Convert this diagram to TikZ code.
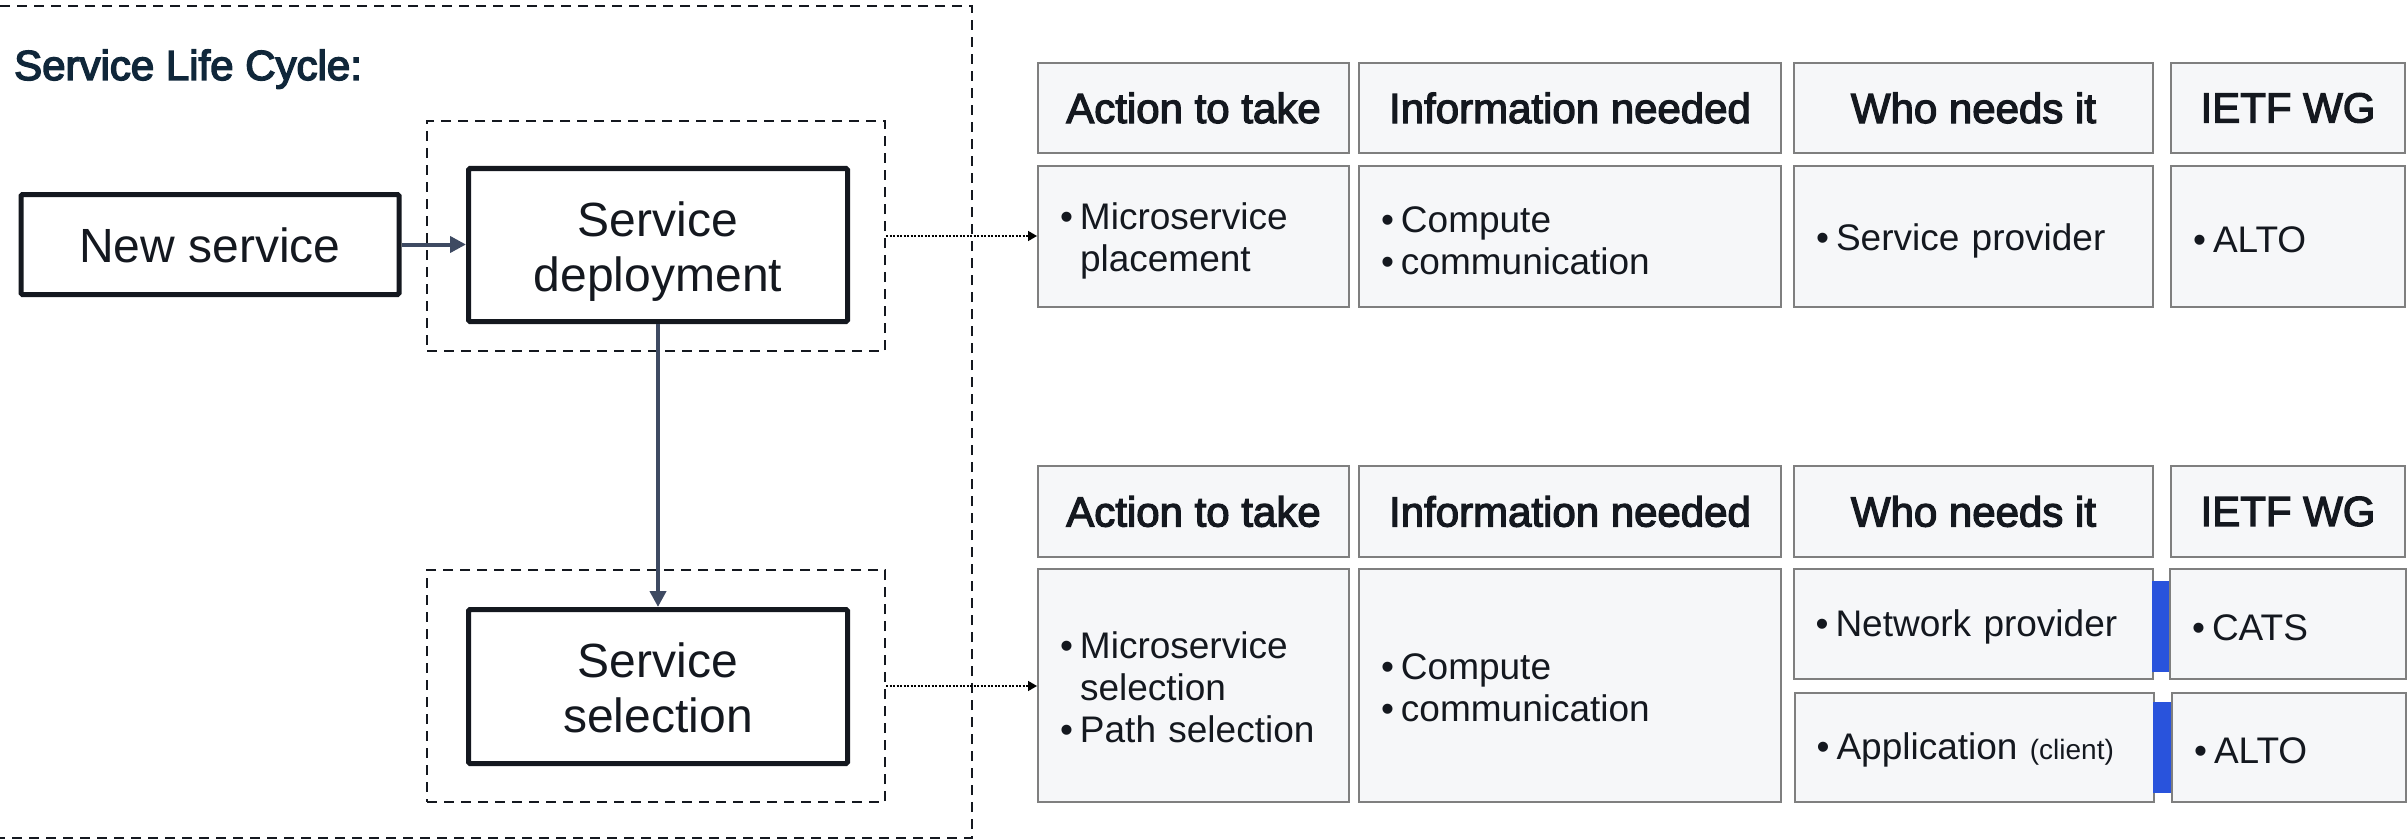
\documentclass[tikz,border=0pt]{standalone}
\usepackage{fontspec}
\setmainfont{Liberation Sans}
\newfontfamily\hfont[FakeBold=3]{Liberation Sans}
\newfontfamily\tfont[FakeBold=3.5]{Liberation Sans}
\usetikzlibrary{arrows.meta}
\definecolor{ink}{HTML}{14181F}
\definecolor{navy}{HTML}{10273A}
\definecolor{slate}{HTML}{3E4A62}
\definecolor{cellfill}{HTML}{F6F7F9}
\definecolor{cellline}{HTML}{7F7F7F}
\definecolor{barblue}{HTML}{2953DC}
\newcommand\bitem{\makebox[20pt][l]{•}}
\newcommand\bcont{\hspace*{20pt}}
\newcommand\lift[1]{\rule{0pt}{#1}}
\begin{document}
\begin{tikzpicture}[x=1pt,y=-1pt,
  stage/.style={draw=ink, line width=5pt, rounded corners=1.5pt, font=\fontsize{48}{55}\selectfont, text=ink, align=center, inner sep=0pt},
  group/.style={draw=ink, line width=2pt, dash pattern=on 10pt off 7pt, inner sep=0pt},
  flow/.style={draw=slate, line width=4pt, -{Triangle[length=16pt,width=16pt]}},
  link/.style={draw=black, line width=1.5pt, dash pattern=on 2pt off 1.5pt, -{Triangle[length=9pt,width=10pt]}},
  cell/.style={draw=cellline, fill=cellfill, line width=2pt, inner sep=0pt},
  head/.style={cell, font=\hfont\fontsize{42}{50}\selectfont, text=ink},
  body/.style={cell, font=\fontsize{37}{42}\selectfont, text=ink, align=left, inner xsep=22pt},
  bar/.style={fill=barblue, draw=none, inner sep=0pt}
]
\useasboundingbox (0,0) rectangle (2407,840);

% left part
\node[group, minimum width=977, minimum height=832] (outer) at (483.5,422) {};
\node[anchor=base west, inner sep=0pt, text=navy, font=\tfont\fontsize{42}{50}\selectfont] (title) at (14,80) {Service Life Cycle:};
\node[group, minimum width=458, minimum height=230] (depgrp) at (656,236) {};
\node[group, minimum width=458, minimum height=232] (selgrp) at (656,686) {};
\node[stage, minimum width=378, minimum height=100] (new) at (210,244.5) {\lift{37pt}New service};
\node[stage, minimum width=379, minimum height=153] (dep) at (658,245) {\lift{48pt}Service\\deployment};
\node[stage, minimum width=379, minimum height=154] (sel) at (658,686.5) {\lift{37pt}Service\\selection};
\draw[flow] (new.east) -- (new.east -| dep.west);
\draw[flow] (dep.south) -- (sel.north);

% upper table
\node[head, minimum width=311, minimum height=90] (ha1) at (1193.5,108) {Action to take};
\node[head, minimum width=422, minimum height=90] (ha2) at (1570,108) {Information needed};
\node[head, minimum width=359, minimum height=90] (ha3) at (1973.5,108) {Who needs it};
\node[head, minimum width=234, minimum height=90] (ha4) at (2288,108) {IETF WG};
\node[body, minimum width=311, minimum height=141, text width=267] (ba1) at (1193.5,236.5) {\lift{35pt}\bitem Microservice\\\bcont placement};
\node[body, minimum width=422, minimum height=141, text width=378] (ba2) at (1570,236.5) {\lift{35pt}\bitem Compute\\\bitem communication};
\node[body, minimum width=359, minimum height=141, text width=315] (ba3) at (1973.5,236.5) {\lift{35pt}\bitem Service provider};
\node[body, minimum width=234, minimum height=141, text width=190] (ba4) at (2288,236.5) {\lift{33pt}\bitem ALTO};

% lower table
\node[head, minimum width=311, minimum height=91] (hb1) at (1193.5,511.5) {Action to take};
\node[head, minimum width=422, minimum height=91] (hb2) at (1570,511.5) {Information needed};
\node[head, minimum width=359, minimum height=91] (hb3) at (1973.5,511.5) {Who needs it};
\node[head, minimum width=234, minimum height=91] (hb4) at (2288,511.5) {IETF WG};
\node[body, minimum width=311, minimum height=233, text width=267] (bb1) at (1193.5,685.5) {\lift{31pt}\bitem Microservice\\\bcont selection\\\bitem Path selection};
\node[body, minimum width=422, minimum height=233, text width=378] (bb2) at (1570,685.5) {\lift{31pt}\bitem Compute\\\bitem communication};
\node[body, minimum width=359, minimum height=110, text width=315] (bb3a) at (1973,624) {\lift{33pt}\bitem Network provider};
\node[body, minimum width=359, minimum height=109, text width=315] (bb3b) at (1974,747.5) {\lift{32pt}\bitem Application {\fontsize{28}{42}\selectfont (client)}};
\node[body, minimum width=236, minimum height=110, text width=192] (bb4a) at (2288,624) {\lift{33pt}\bitem CATS};
\node[body, minimum width=234, minimum height=109, text width=190] (bb4b) at (2289,747.5) {\lift{32pt}\bitem ALTO};
\node[bar, minimum width=17, minimum height=91] (bar1) at (2160.5,626.5) {};
\node[bar, minimum width=18, minimum height=91] (bar2) at (2162,747.5) {};

% dotted links
\draw[link] (depgrp.east) -- (depgrp.east -| ba1.west);
\draw[link] (selgrp.east) -- (selgrp.east -| bb1.west);
\end{tikzpicture}
\end{document}
